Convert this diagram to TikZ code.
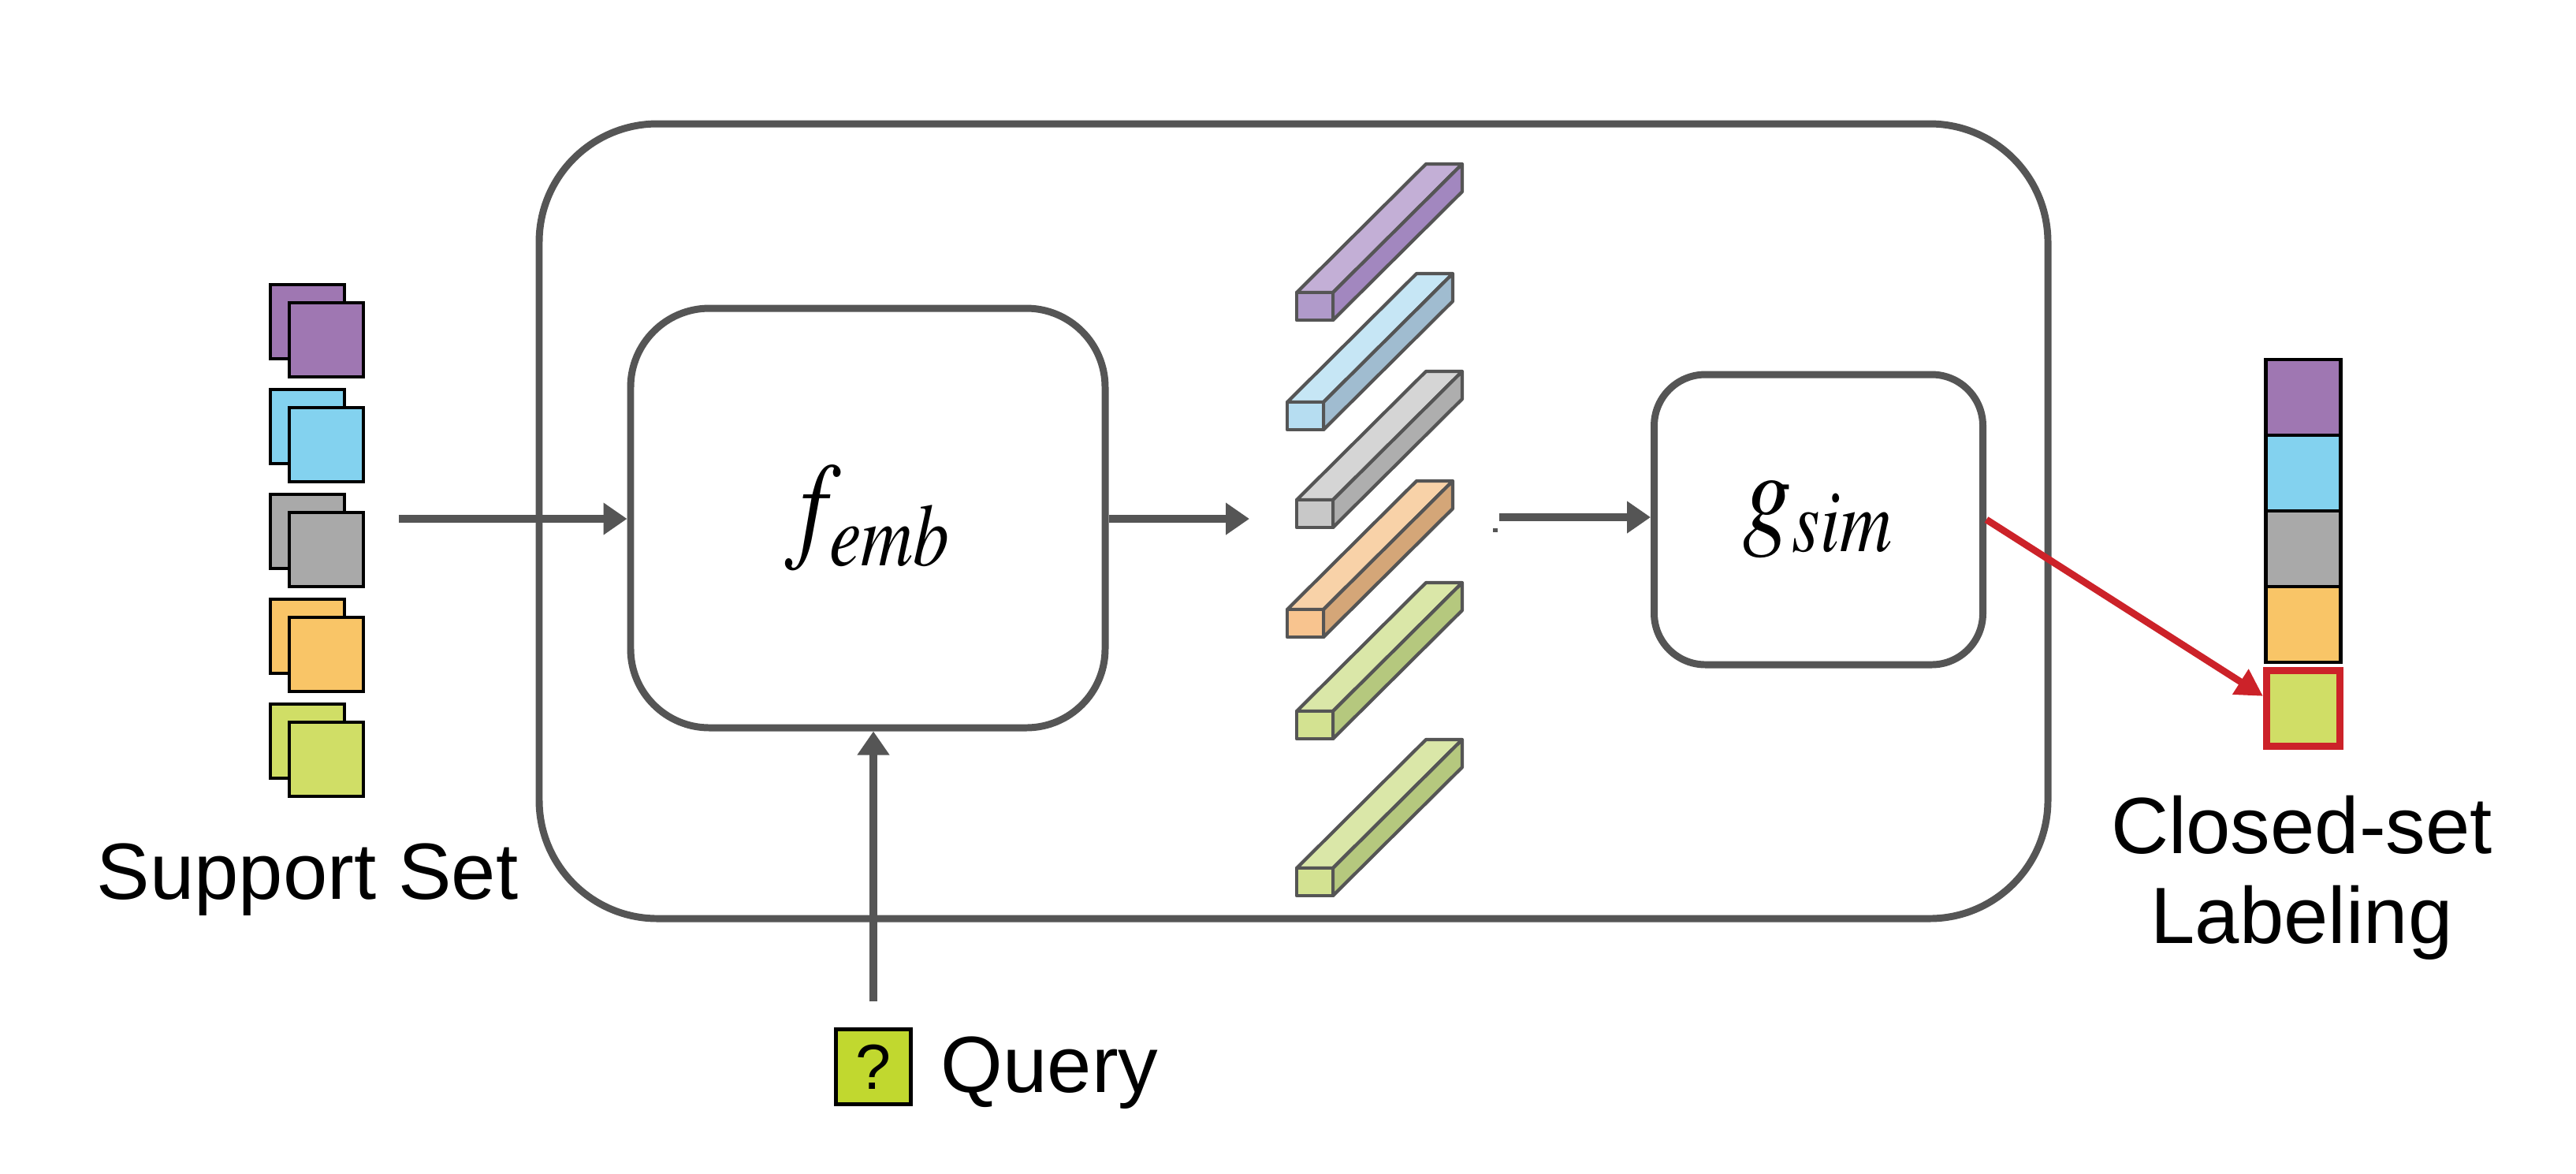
\documentclass[tikz,border=0pt]{standalone}
\usepackage{mathptmx}
\usepackage[no-math]{fontspec}
\setmainfont{Liberation Sans}
\usetikzlibrary{arrows.meta,positioning}

\definecolor{cline}{RGB}{85,85,85}
\definecolor{cred}{RGB}{204,34,41}
\definecolor{cpurple}{RGB}{159,119,178}
\definecolor{cblue}{RGB}{131,210,239}
\definecolor{cgray}{RGB}{169,169,169}
\definecolor{corange}{RGB}{249,197,103}
\definecolor{cgreen}{RGB}{208,222,102}
\definecolor{cquery}{RGB}{193,216,47}
% bar faces: top / front / side
\definecolor{purT}{RGB}{195,175,214}\definecolor{purF}{RGB}{176,154,202}\definecolor{purS}{RGB}{162,135,191}
\definecolor{bluT}{RGB}{198,230,245}\definecolor{bluF}{RGB}{182,221,241}\definecolor{bluS}{RGB}{160,188,208}
\definecolor{graT}{RGB}{213,213,213}\definecolor{graF}{RGB}{200,200,200}\definecolor{graS}{RGB}{174,174,174}
\definecolor{oraT}{RGB}{248,210,168}\definecolor{oraF}{RGB}{248,196,143}\definecolor{oraS}{RGB}{212,166,120}
\definecolor{greT}{RGB}{218,231,168}\definecolor{greF}{RGB}{211,226,145}\definecolor{greS}{RGB}{181,200,126}

\newcommand{\lbl}{\fontsize{28.8}{32.4}\selectfont}
\newcommand{\fnlbl}[1]{\fontsize{40}{44}\selectfont\scalebox{0.88}[1.08]{$#1$}}

\begin{document}
\begin{tikzpicture}[
  arr/.style={draw=cline, line width=2.8pt, -{Triangle[length=0.30cm,width=0.39cm]}},
  redarr/.style={draw=cred, line width=2.5pt, -{Triangle[length=0.34cm,width=0.36cm]}},
  block/.style={draw=cline, line width=2.55pt, inner sep=0pt},
  supp/.style={draw=black, line width=1.3pt, minimum size=0.94cm, inner sep=0pt},
  cell/.style={draw=black, line width=1.3pt, minimum width=0.95cm, minimum height=0.96cm, inner sep=0pt},
  barline/.style={draw=cline, line width=1.2pt, line join=round},
  txt/.style={inner sep=0pt, font=\lbl}]
  \useasboundingbox (0,0) rectangle (32.68,-14.88);

  % main blocks
  \node[block, rounded corners=1.5cm, minimum width=19.14cm, minimum height=10.08cm] (outer) at (16.41,-6.61) {};
  \node[block, rounded corners=1cm, minimum width=6.02cm, minimum height=5.32cm] (femb) at (11.01,-6.57)
    {\fnlbl{f_{emb}}};
  \node[block, rounded corners=0.65cm, minimum width=4.17cm, minimum height=3.68cm] (gsim) at (23.07,-6.59)
    {\fnlbl{g_{sim}}};

  % support set
  \foreach \c [count=\i from 0] in {cpurple,cblue,cgray,corange,cgreen} {
    \node[supp, fill=\c] (sb\i) at (3.90,-4.08-1.33*\i) {};
    \node[supp, fill=\c] (sf\i) at ([shift={(0.24,-0.23)}]sb\i.center) {};
  }
  \node[txt, anchor=base] (suptxt) at (3.90,-11.40) {Support Set};

  % embeddings
  \foreach \x/\y/\ct/\cf/\cs in {16.45/3.71/purT/purF/purS, 16.33/5.10/bluT/bluF/bluS,
      16.45/6.34/graT/graF/graS, 16.33/7.73/oraT/oraF/oraS,
      16.45/9.02/greT/greF/greS, 16.45/11.01/greT/greF/greS} {
    \draw[barline, fill=\ct] (\x,-\y) -- ++(1.64,1.63) -- ++(0.46,0) -- ++(-1.64,-1.63) -- cycle;
    \draw[barline, fill=\cs] (\x+0.46,-\y) -- ++(1.64,1.63) -- ++(0,-0.35) -- ++(-1.64,-1.63) -- cycle;
    \draw[barline, fill=\cf] (\x,-\y) rectangle ++(0.46,-0.35);
  }
  \fill[cline] (18.94,-6.70) rectangle ++(0.06,-0.05);

  % closed-set labels
  \foreach \c [count=\i from 0] in {cpurple,cblue,cgray,corange} {
    \node[cell, fill=\c] (oc\i) at (29.22,-5.04-0.96*\i) {};
  }
  \node[cell, fill=cgreen, draw=cred, line width=2.6pt, minimum width=0.93cm, minimum height=0.96cm,
    below=0.04cm of oc3] (oc4) {};
  \node[txt, anchor=base, align=center] (outtxt) at (29.20,-11.96) {Closed-set\\Labeling};

  % query
  \node[draw=black, line width=1.3pt, fill=cquery, minimum size=0.95cm, inner sep=0pt,
    font=\fontsize{23}{26}\selectfont] (qbox) at (11.08,-13.53) {?};
  \node[txt, anchor=base west] (qtxt) at (11.93,-13.85) {Query};

  % connectors
  \coordinate (supin) at (5.06,-6.58);
  \coordinate (barin) at (15.85,-6.58);
  \coordinate (barout) at (19.02,-6.56);
  \draw[arr] (supin) -- (supin -| femb.west);
  \draw[arr] (femb.east |- barin) -- (barin);
  \draw[arr] (barout) -- (barout -| gsim.west);
  \draw[arr] ([yshift=0.33cm]qbox.north) -- (qbox.north |- femb.south);
  \draw[redarr] (gsim.east) -- ([yshift=0.16cm]oc4.west);
\end{tikzpicture}
\end{document}
